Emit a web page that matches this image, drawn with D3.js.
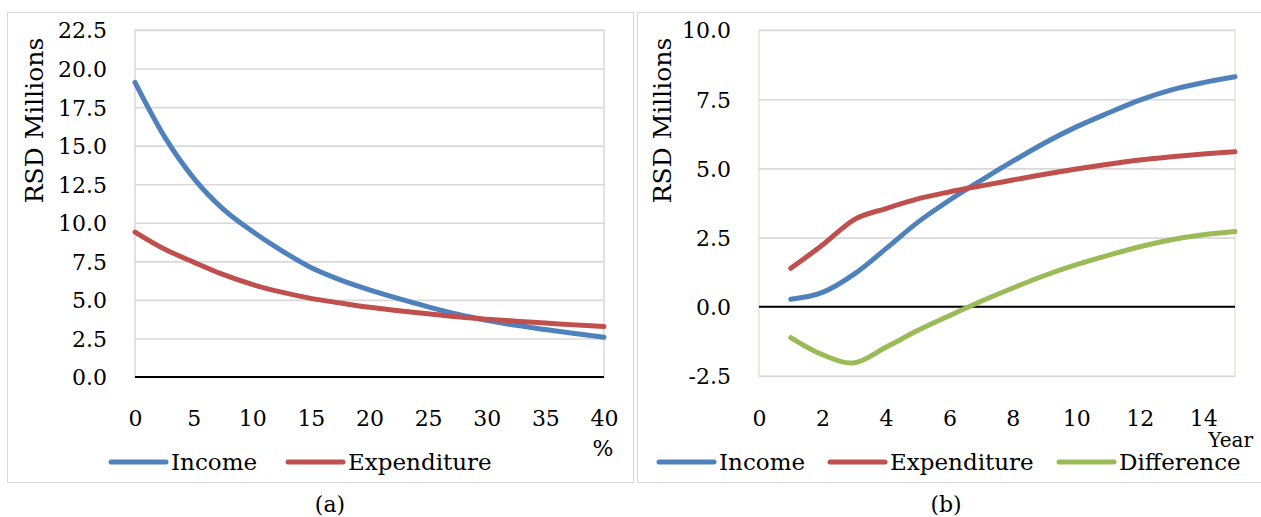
<!DOCTYPE html>
<html>
<head>
<meta charset="utf-8">
<script src="https://cdn.jsdelivr.net/npm/d3@7"></script>
<style>
  html, body { margin: 0; padding: 0; background: #fff; }
  svg { display: block; }
  text { font-family: "DejaVu Serif", serif; fill: #000; }
</style>
</head>
<body>
<svg id="chart" width="1261" height="517"></svg>
<script>
// ---- Panel (a): value against discount rate (%) ----
const rates = [0, 2.5, 5, 7.5, 10, 12.5, 15, 17.5, 20, 22.5, 25, 27.5, 30, 32.5, 35, 37.5, 40];
const incomeA = [19.1, 15.6, 12.9, 10.9, 9.45, 8.2, 7.1, 6.3, 5.65, 5.08, 4.55, 4.07, 3.68, 3.35, 3.08, 2.82, 2.58];
const expenditureA = [9.4, 8.3, 7.45, 6.65, 6.0, 5.5, 5.1, 4.8, 4.52, 4.3, 4.1, 3.9, 3.75, 3.62, 3.5, 3.38, 3.27];
const rateTicks = [0, 5, 10, 15, 20, 25, 30, 35, 40];
const valueTicksA = [0, 2.5, 5, 7.5, 10, 12.5, 15, 17.5, 20, 22.5];

// ---- Panel (b): cumulative values by year ----
const years = [1, 2, 3, 4, 5, 6, 7, 8, 9, 10, 11, 12, 13, 14, 15];
const incomeB = [0.27, 0.52, 1.18, 2.1, 3.05, 3.85, 4.57, 5.26, 5.92, 6.5, 7.0, 7.47, 7.84, 8.1, 8.31];
const expenditureB = [1.39, 2.23, 3.15, 3.55, 3.9, 4.15, 4.37, 4.58, 4.79, 4.98, 5.15, 5.3, 5.42, 5.52, 5.6];
const differenceB = [-1.11, -1.73, -2.02, -1.46, -0.86, -0.32, 0.2, 0.68, 1.13, 1.52, 1.86, 2.17, 2.42, 2.6, 2.72];
const yearTicks = [0, 2, 4, 6, 8, 10, 12, 14];
const valueTicksB = [-2.5, 0, 2.5, 5, 7.5, 10];

const seriesNames = ["Income", "Expenditure", "Difference"];
const colors = { Income: "#4f81bd", Expenditure: "#c0504d", Difference: "#9bbb59" };

const fmt = d3.formatLocale({ decimal: ".", thousands: ",", grouping: [3], currency: ["", ""], minus: "-" }).format(".1f");

const svg = d3.select("#chart");
const GRID = "#d9d9d9";
const LINE_W = 5;

// Outer frames of the two panels
svg.append("rect").attr("x", 7.5).attr("y", 12.5).attr("width", 626).attr("height", 470)
  .attr("fill", "none").attr("stroke", GRID).attr("stroke-width", 1);
svg.append("rect").attr("x", 637.5).attr("y", 12.5).attr("width", 640).attr("height", 470)
  .attr("fill", "none").attr("stroke", GRID).attr("stroke-width", 1);

function panel(cfg) {
  const x = d3.scaleLinear().domain(cfg.xDomain).range([cfg.left, cfg.right]);
  const y = d3.scaleLinear().domain(cfg.yDomain).range([cfg.bottom, cfg.top]);
  const g = svg.append("g");

  // plot area border
  g.append("rect")
    .attr("x", cfg.left).attr("y", cfg.top)
    .attr("width", cfg.right - cfg.left).attr("height", cfg.bottom - cfg.top)
    .attr("fill", "none").attr("stroke", cfg.frame).attr("stroke-width", 1.5);

  // horizontal gridlines
  const grid = g.append("g").attr("transform", `translate(${cfg.left},0)`)
    .call(d3.axisLeft(y).tickValues(cfg.yTicks).tickSize(-(cfg.right - cfg.left)).tickFormat(""));
  grid.select(".domain").remove();
  grid.selectAll(".tick line").attr("stroke", GRID).attr("stroke-width", 1.6);

  // y tick labels
  const ya = g.append("g").attr("transform", `translate(${cfg.left - 28},0)`)
    .call(d3.axisLeft(y).tickValues(cfg.yTicks).tickSize(0).tickPadding(0).tickFormat(fmt));
  ya.select(".domain").remove();
  ya.selectAll("text").attr("font-family", "DejaVu Serif").attr("font-size", 22)
    .attr("fill", "#000").attr("dy", "0.36em");

  // zero axis
  g.append("line").attr("x1", cfg.left).attr("x2", cfg.right)
    .attr("y1", y(0)).attr("y2", y(0)).attr("stroke", "#000").attr("stroke-width", 2);

  // x tick labels
  const xa = g.append("g").attr("transform", `translate(0,426)`)
    .call(d3.axisBottom(x).tickValues(cfg.xTicks).tickSize(0).tickFormat(d3.format("d")));
  xa.select(".domain").remove();
  xa.selectAll("text").attr("font-family", "DejaVu Serif").attr("font-size", 22)
    .attr("fill", "#000").attr("y", 0).attr("dy", 0);

  // series lines (smoothed)
  const line = d3.line()
    .x(d => x(d[0])).y(d => y(d[1]))
    .curve(d3.curveCardinal.tension(0));
  cfg.series.forEach(s => {
    g.append("path")
      .datum(cfg.xs.map((v, i) => [v, s.values[i]]))
      .attr("d", line)
      .attr("fill", "none")
      .attr("stroke", colors[s.name])
      .attr("stroke-width", LINE_W)
      .attr("stroke-linecap", "round")
      .attr("stroke-linejoin", "round");
  });

  // y axis title
  g.append("text")
    .attr("transform", `translate(${cfg.titleX},${(cfg.top + 211) / 2}) rotate(-90)`)
    .attr("text-anchor", "middle").attr("font-size", 25)
    .text("RSD Millions");

  // legend
  cfg.series.forEach((s, i) => {
    const lx = cfg.legendX[i];
    g.append("line").attr("x1", lx).attr("x2", lx + 55).attr("y1", 462).attr("y2", 462)
      .attr("stroke", colors[s.name]).attr("stroke-width", LINE_W).attr("stroke-linecap", "round");
    g.append("text").attr("x", lx + 60).attr("y", 470).attr("font-size", 23).text(s.name);
  });

  // x axis unit
  g.append("text").attr("x", cfg.unitX).attr("y", cfg.unitY)
    .attr("text-anchor", cfg.unitAnchor).attr("font-size", cfg.unitSize)
    .text(cfg.unit);

  // caption
  svg.append("text").attr("x", cfg.captionX).attr("y", 512)
    .attr("text-anchor", "middle").attr("font-size", 22).text(cfg.caption);
}

panel({
  left: 135, right: 604, top: 30, bottom: 377,
  xDomain: [0, 40], yDomain: [0, 22.5],
  xTicks: rateTicks, yTicks: valueTicksA,
  xs: rates,
  series: [
    { name: seriesNames[0], values: incomeA },
    { name: seriesNames[1], values: expenditureA }
  ],
  frame: GRID,
  titleX: 43, unit: "%", unitX: 603, unitY: 456, unitSize: 22, unitAnchor: "middle",
  legendX: [111, 288],
  caption: "(a)", captionX: 330
});

panel({
  left: 759, right: 1235, top: 30, bottom: 376,
  xDomain: [0, 15], yDomain: [-2.5, 10],
  xTicks: yearTicks, yTicks: valueTicksB,
  xs: years,
  series: [
    { name: seriesNames[0], values: incomeB },
    { name: seriesNames[1], values: expenditureB },
    { name: seriesNames[2], values: differenceB }
  ],
  frame: "#e9e5d6",
  titleX: 671, unit: "Year", unitX: 1253, unitY: 447, unitSize: 20, unitAnchor: "end",
  legendX: [659, 830, 1059],
  caption: "(b)", captionX: 946
});
</script>
</body>
</html>
